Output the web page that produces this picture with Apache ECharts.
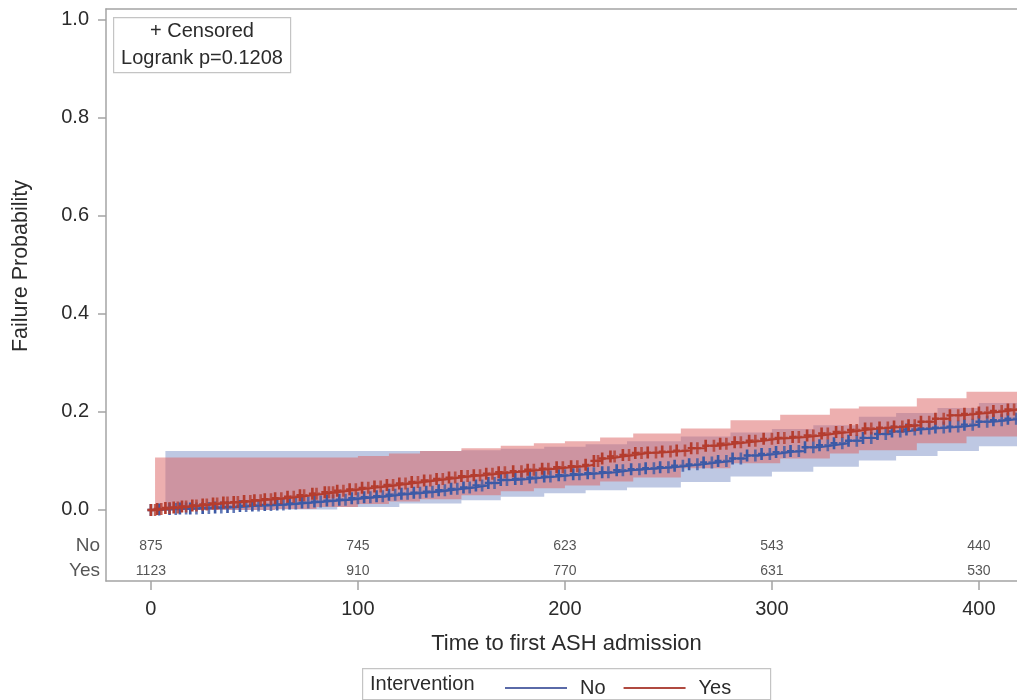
<!DOCTYPE html>
<html>
<head>
<meta charset="utf-8">
<script src="https://cdn.jsdelivr.net/npm/echarts@6/dist/echarts.min.js"></script>
<style>
html,body{margin:0;padding:0;background:#fff;}
#chart{width:1017px;height:700px;}
</style>
</head>
<body>
<div id="chart"></div>
<script>
// ---- data ----
const xTicks = [0, 100, 200, 300, 400];
const yTicks = [0, 0.2, 0.4, 0.6, 0.8, 1.0];

const timesNo = [0,4,9,14,19,25,31,37,43,49,55,61,67,73,79,85,91,97,103,109,115,121,127,133,139,145,151,157,163,169,176,183,190,197,204,211,218,225,232,239,246,253,260,267,274,281,288,295,302,309,316,323,330,337,344,351,358,365,372,379,386,393,400,407,414,420];
const failNo = [0,0.001,0.002,0.003,0.003,0.004,0.005,0.006,0.008,0.009,0.01,0.011,0.013,0.015,0.017,0.019,0.021,0.024,0.026,0.028,0.031,0.033,0.035,0.037,0.04,0.043,0.046,0.05,0.055,0.061,0.063,0.066,0.068,0.071,0.073,0.075,0.077,0.081,0.083,0.085,0.087,0.09,0.093,0.097,0.1,0.105,0.111,0.114,0.118,0.12,0.128,0.132,0.136,0.141,0.147,0.155,0.16,0.164,0.166,0.168,0.17,0.174,0.18,0.183,0.186,0.188];

const timesYes = [0,3,7,11,15,20,25,30,35,40,45,50,55,60,66,72,78,84,90,96,102,108,114,120,126,132,138,144,150,156,162,168,175,182,189,196,203,210,214,218,222,228,234,240,247,254,261,268,275,282,289,296,303,310,317,324,331,338,345,352,359,366,372,379,386,393,400,407,414,420];
const failYes = [0,0.002,0.004,0.005,0.007,0.009,0.011,0.013,0.015,0.016,0.018,0.02,0.022,0.024,0.027,0.03,0.033,0.036,0.039,0.042,0.045,0.048,0.051,0.054,0.057,0.06,0.063,0.066,0.069,0.071,0.074,0.077,0.079,0.082,0.084,0.087,0.089,0.092,0.1,0.105,0.109,0.112,0.116,0.117,0.119,0.121,0.126,0.131,0.135,0.138,0.141,0.145,0.147,0.149,0.152,0.156,0.159,0.163,0.166,0.168,0.17,0.173,0.18,0.186,0.193,0.196,0.199,0.202,0.205,0.207];

// censoring times (marks sit on the step curve of their group)
const censorNo  = [12,17,22,28,34,40,46,52,58,64,70,76,82,88,94,100,106,112,118,124,130,136,142,148,154,160,166,172,179,186,193,200,207,214,221,228,236,243,250,257,264,271,278,285,292,299,306,313,320,327,334,341,348,355,362,369,376,383,390,397,404,411,418];
const censorYes = [2,5,9,13,17,22,27,32,37,42,48,53,58,63,69,74,80,86,88,93,99,105,111,117,123,129,135,141,147,153,159,165,171,179,185,192,199,206,216,224,231,237,244,251,258,264,272,278,285,292,300,306,313,320,327,334,341,348,356,363,369,376,383,390,397,404,411,417];

const bandNoT  = [7,30,60,90,120,150,169,190,210,230,256,280,300,320,342,360,380,400,420];
const bandNoLo = [0,0,0.001,0.006,0.013,0.02,0.027,0.034,0.04,0.046,0.057,0.068,0.078,0.088,0.101,0.11,0.12,0.13,0.14];
const bandNoHi = [0.12,0.12,0.12,0.12,0.12,0.122,0.125,0.129,0.134,0.14,0.15,0.158,0.165,0.173,0.19,0.198,0.208,0.218,0.228];

const bandYesT  = [2,30,60,80,100,115,130,150,169,185,200,217,233,256,280,304,328,342,370,394,420];
const bandYesLo = [0,0,0.002,0.006,0.012,0.017,0.022,0.03,0.038,0.044,0.05,0.058,0.066,0.085,0.095,0.105,0.115,0.122,0.136,0.15,0.16];
const bandYesHi = [0.107,0.107,0.107,0.107,0.11,0.115,0.12,0.126,0.131,0.136,0.14,0.148,0.156,0.166,0.183,0.194,0.207,0.211,0.228,0.241,0.252];

const riskTimes = [0, 100, 200, 300, 400];
const riskNo  = [875, 745, 623, 543, 440];
const riskYes = [1123, 910, 770, 631, 530];

// ---- styling ----
const FONT = 'Liberation Sans, Arial, sans-serif';
const TXT = '#2b2b2b';
const FRAME = '#a4a4a4';
const BLUE = '#3d5aa6';
const RED = '#b43c2e';
const X_MIN = -21.7, X_MAX = 418.4;
const Y_MIN = -0.145, Y_MAX = 1.022;
const ROW_NO = -0.073, ROW_YES = -0.124;
const PLUS = 'path://M2.5,0h3v4h2.5v2h-2.5v4h-3v-4h-2.5v-2h2.5z';

function stepAt(T, V, t) {
  let v = V[0];
  for (let i = 0; i < T.length; i++) { if (T[i] <= t) v = V[i]; else break; }
  return v;
}

function bandRender(T, LO, HI, fill) {
  return function (params, api) {
    if (params.dataIndex !== 0) return null;
    const up = [], lo = [];
    for (let i = 0; i < T.length; i++) {
      up.push(api.coord([T[i], HI[i]]));
      if (i < T.length - 1) up.push(api.coord([T[i + 1], HI[i]]));
      lo.push(api.coord([T[i], LO[i]]));
      if (i < T.length - 1) lo.push(api.coord([T[i + 1], LO[i]]));
    }
    return { type: 'polygon', shape: { points: up.concat(lo.reverse()) }, style: { fill: fill } };
  };
}

const chart = echarts.init(document.getElementById('chart'), null, { renderer: 'canvas' });
chart.setOption({
  animation: false,
  backgroundColor: '#fff',
  grid: { left: 106, top: 9, right: 0, height: 572, show: false },
  xAxis: [{
    type: 'value', min: X_MIN, max: X_MAX, position: 'bottom',
    name: 'Time to first ASH admission', nameLocation: 'middle', nameGap: 52,
    nameTextStyle: { fontFamily: FONT, fontSize: 22, color: TXT, padding: [0, 0, 0, 10] },
    axisLine: { show: true, onZero: false, lineStyle: { color: FRAME, width: 1.5 } }, splitLine: { show: false },
    axisTick: { show: true, inside: false, length: 9, customValues: xTicks, lineStyle: { color: FRAME, width: 1.5 } },
    axisLabel: { customValues: xTicks, margin: 18, fontFamily: FONT, fontSize: 20, color: TXT }
  }, {
    type: 'value', min: X_MIN, max: X_MAX, position: 'top',
    axisLine: { show: true, onZero: false, lineStyle: { color: FRAME, width: 1.5 } },
    axisTick: { show: false }, axisLabel: { show: false }, splitLine: { show: false }
  }],
  yAxis: {
    type: 'value', min: Y_MIN, max: Y_MAX,
    name: 'Failure Probability', nameLocation: 'middle', nameGap: 74,
    nameTextStyle: { fontFamily: FONT, fontSize: 21.5, color: TXT, padding: [0, 0, 0, 58] },
    axisLine: { show: true, onZero: false, lineStyle: { color: FRAME, width: 1.5 } }, splitLine: { show: false },
    axisTick: { show: true, inside: false, length: 8, customValues: yTicks, lineStyle: { color: FRAME, width: 1.5 } },
    axisLabel: { customValues: yTicks, margin: 17, fontFamily: FONT, fontSize: 20, color: TXT, formatter: v => v.toFixed(1) }
  },
  legend: {
    data: [
      { name: 'No', itemStyle: { color: '#5a6aa8' } },
      { name: 'Yes', itemStyle: { color: '#b04a40' } }
    ],
    left: 500, top: 673, itemWidth: 62, itemHeight: 2, itemGap: 18,
    icon: 'rect', selectedMode: false,
    textStyle: { fontFamily: FONT, fontSize: 20, color: TXT, padding: [0, 0, 0, 8] }
  },
  graphic: [
    { type: 'rect', left: 113, top: 17, shape: { width: 177, height: 55 }, style: { fill: '#fff', stroke: '#c4c4c4', lineWidth: 1.2 }, z: 100 },
    { type: 'text', x: 202, y: 31, style: { text: '+ Censored', font: '20px ' + FONT, fill: TXT, textAlign: 'center', textVerticalAlign: 'middle' }, z: 101 },
    { type: 'text', x: 202, y: 58, style: { text: 'Logrank p=0.1208', font: '20px ' + FONT, fill: TXT, textAlign: 'center', textVerticalAlign: 'middle' }, z: 101 },
    { type: 'rect', left: 362, top: 668, shape: { width: 408, height: 31 }, style: { fill: '#fff', stroke: '#c4c4c4', lineWidth: 1.2 }, z: 0 },
    { type: 'text', x: 370, y: 684, style: { text: 'Intervention', font: '20px ' + FONT, fill: TXT, textVerticalAlign: 'middle' }, z: 101 }
  ],
  series: [
    { type: 'custom', name: 'No band', clip: true, silent: true, z: 1,
      data: bandNoT.map((t, i) => [t, bandNoLo[i], bandNoHi[i]]),
      renderItem: bandRender(bandNoT, bandNoLo, bandNoHi, 'rgba(125,145,200,0.5)') },
    { type: 'custom', name: 'Yes band', clip: true, silent: true, z: 2,
      data: bandYesT.map((t, i) => [t, bandYesLo[i], bandYesHi[i]]),
      renderItem: bandRender(bandYesT, bandYesLo, bandYesHi, 'rgba(220,95,95,0.5)') },
    { type: 'line', name: 'No', step: 'end', z: 3, color: BLUE, clip: true,
      data: timesNo.map((t, i) => [t, failNo[i]]),
      showSymbol: true, symbol: PLUS, symbolSize: [7, 12],
      itemStyle: { color: BLUE }, lineStyle: { color: BLUE, width: 2 } },
    { type: 'scatter', name: 'No censored', z: 3, clip: true, silent: true,
      data: censorNo.map(t => [t, stepAt(timesNo, failNo, t)]),
      symbol: PLUS, symbolSize: [7, 12], itemStyle: { color: BLUE } },
    { type: 'line', name: 'Yes', step: 'end', z: 4, color: RED, clip: true,
      data: timesYes.map((t, i) => [t, failYes[i]]),
      showSymbol: true, symbol: PLUS, symbolSize: [7, 12],
      itemStyle: { color: RED }, lineStyle: { color: RED, width: 2 } },
    { type: 'scatter', name: 'Yes censored', z: 4, clip: true, silent: true,
      data: censorYes.map(t => [t, stepAt(timesYes, failYes, t)]),
      symbol: PLUS, symbolSize: [7, 12], itemStyle: { color: RED } },
    { type: 'scatter', name: 'at risk No', clip: false, silent: true, symbolSize: 0,
      data: riskTimes.map((t, i) => [t, ROW_NO, riskNo[i]]),
      label: { show: true, position: 'inside', formatter: p => String(p.value[2]), fontFamily: FONT, fontSize: 14, color: TXT } },
    { type: 'scatter', name: 'at risk Yes', clip: false, silent: true, symbolSize: 0,
      data: riskTimes.map((t, i) => [t, ROW_YES, riskYes[i]]),
      label: { show: true, position: 'inside', formatter: p => String(p.value[2]), fontFamily: FONT, fontSize: 14, color: TXT } },
    { type: 'scatter', name: 'row labels', clip: false, silent: true, symbolSize: 0,
      data: [[X_MIN, ROW_NO, 'No'], [X_MIN, ROW_YES, 'Yes']],
      label: { show: true, position: 'left', distance: 6, formatter: p => p.value[2], fontFamily: FONT, fontSize: 19, color: TXT } }
  ]
});
</script>
</body>
</html>
